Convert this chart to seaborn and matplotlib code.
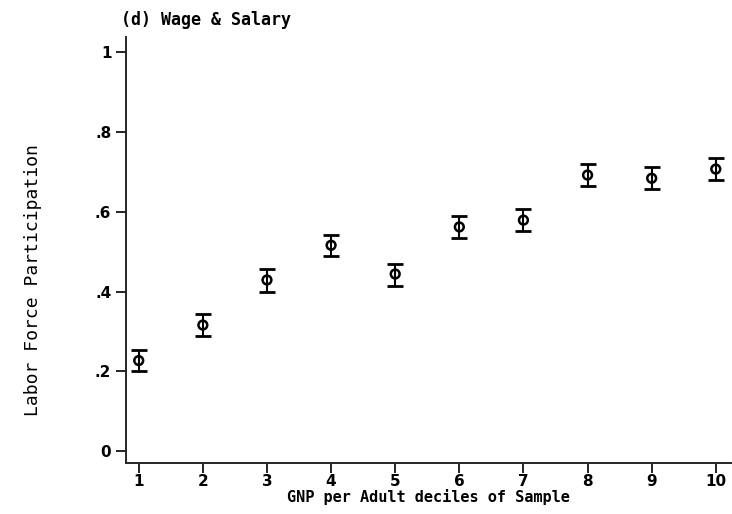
import numpy as np
import pandas as pd
import matplotlib
matplotlib.use("Agg")
import matplotlib.pyplot as plt
import seaborn as sns

# values
deciles = [1, 2, 3, 4, 5, 6, 7, 8, 9, 10]
participation = [0.227, 0.316, 0.429, 0.516, 0.444, 0.562, 0.579, 0.692, 0.684, 0.707]
ci_low = [0.200, 0.288, 0.400, 0.489, 0.414, 0.535, 0.551, 0.664, 0.657, 0.679]
ci_high = [0.253, 0.343, 0.456, 0.543, 0.469, 0.590, 0.606, 0.719, 0.712, 0.734]
y_ticks = [0, 0.2, 0.4, 0.6, 0.8, 1]
y_ticklabels = ["0", ".2", ".4", ".6", ".8", "1"]

df = pd.DataFrame({"decile": deciles, "lfp": participation,
                   "lo": ci_low, "hi": ci_high})

sns.set_style("ticks")
plt.rcParams["font.family"] = ["DejaVu Sans Mono"]
plt.rcParams["text.color"] = "black"
plt.rcParams["axes.labelcolor"] = "black"

fig = plt.figure(figsize=(7.32, 5.14), dpi=100)
ax = fig.add_axes([0.172, 0.099, 0.826, 0.829])

yerr = np.vstack([df["lfp"] - df["lo"], df["hi"] - df["lfp"]])
ax.errorbar(df["decile"], df["lfp"], yerr=yerr, fmt="none", ecolor="black",
            elinewidth=1.5, capsize=6, capthick=2, zorder=2)
sns.scatterplot(data=df, x="decile", y="lfp", ax=ax, marker="o", s=40,
                facecolor="none", edgecolor="black", linewidth=1.8, zorder=3)

ax.set_xlim(0.8, 10.23)
ax.set_ylim(-0.03, 1.038)
ax.set_xticks(deciles)
ax.set_yticks(y_ticks)
ax.set_yticklabels(y_ticklabels)
ax.tick_params(axis="both", direction="out", length=7, width=1.2,
               labelsize=11, colors="black")
ax.tick_params(axis="x", pad=1)
for lbl in ax.get_xticklabels() + ax.get_yticklabels():
    lbl.set_fontfamily("DejaVu Sans")
    lbl.set_fontweight("bold")

sns.despine(ax=ax)
ax.spines["left"].set_linewidth(1.4)
ax.spines["bottom"].set_linewidth(1.4)

ax.set_xlabel("GNP per Adult deciles of Sample", fontsize=11,
              fontweight="bold", labelpad=0)
ax.set_ylabel("Labor Force Participation", fontsize=13)
ax.yaxis.set_label_coords(-0.138, 0.43)
fig.text(0.165, 0.962, "(d) Wage & Salary", fontsize=12, fontweight="bold",
         ha="left", va="center")

fig.savefig("out.png", dpi=100, facecolor="white")
